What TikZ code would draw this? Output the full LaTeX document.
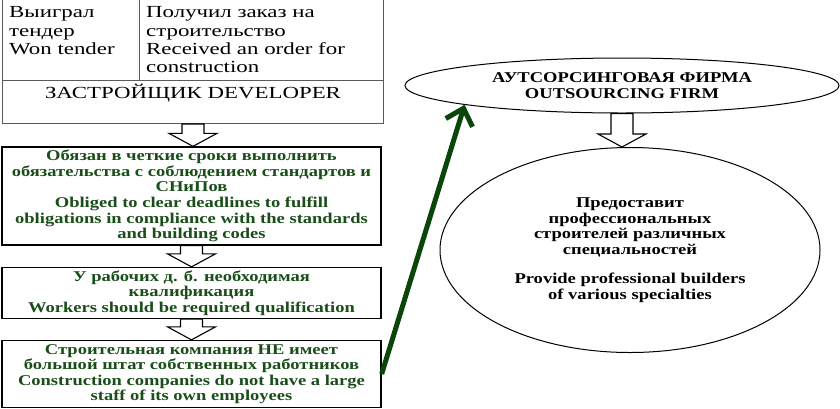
\documentclass[tikz,border=0pt]{standalone}
\usepackage{fontspec}
\setmainfont{Liberation Serif}[FakeStretch=1.24]
\newfontfamily\topfont{Liberation Serif}[FakeStretch=1.35]
\usetikzlibrary{shapes.geometric,arrows.meta,calc}
\definecolor{txtgreen}{RGB}{25,78,25}
\definecolor{arrgreen}{RGB}{10,70,10}
\definecolor{tabline}{RGB}{90,90,90}
\newcommand\blockarr[2]{\draw[barrow] let \p1=(#1.south), \p2=(#2.north) in
  (\x1-11bp,\y1) -- (\x1+11bp,\y1) -- (\x1+11bp,\y2+13bp) -- (\x1+24bp,\y2+13bp)
  -- (\x1,\y2) -- (\x1-24bp,\y2+13bp) -- (\x1-11bp,\y2+13bp) -- cycle;}
\begin{document}
\begin{tikzpicture}[x=1bp,y=-1bp,
  gbox/.style={draw=black, line width=1.3bp, fill=white,
    font=\bfseries\fontsize{15}{15.6}\selectfont, text=txtgreen, align=center,
    inner sep=0pt, minimum width=379bp},
  ell/.style={draw=black, ellipse, line width=1bp, inner sep=0pt,
    font=\bfseries\fontsize{15}{15.8}\selectfont, align=center},
  barrow/.style={draw=black, line width=1.1bp, fill=white, line join=miter},
  toptxt/.style={font=\topfont\fontsize{17}{18.3}\selectfont, align=left,
    anchor=north west, inner sep=0pt}
]
\useasboundingbox (0,0) rectangle (840,408);

% developer table
\node[draw=tabline, line width=1bp, minimum width=381bp, minimum height=124bp,
  anchor=north west, inner sep=0pt] (dev) at (2,-1) {};
\draw[tabline, line width=0.8bp] (2,80) -- (383,80);
\draw[tabline, line width=0.8bp] (139,-1) -- (139,80);
\node[toptxt] (won) at (9,6.5) {Выиграл\\тендер\\Won tender};
\node[toptxt] (order) at (146,6.5) {Получил заказ на\\строительство\\Received an order for\\construction};
\node[font=\topfont\fontsize{17}{18.3}\selectfont, inner sep=0pt] (devtxt) at (193,93.5) {ЗАСТРОЙЩИК DEVELOPER};

% green boxes
\node[gbox, minimum height=98bp] (b2) at (191.5,196) {Обязан в четкие сроки выполнить\\обязательства с соблюдением стандартов и\\СНиПов\\Obliged to clear deadlines to fulfill\\obligations in compliance with the standards\\and building codes};
\node[gbox, minimum height=51bp] (b3) at (191.5,293) {У рабочих д. б. необходимая\\квалификация\\Workers should be required qualification};
\node[gbox, minimum height=67bp] (b4) at (191.5,374) {Строительная компания НЕ имеет\\большой штат собственных работников\\Construction companies do not have a large\\staff of its own employees};

% ellipses
\node[ell, minimum width=434bp, minimum height=55bp] (of) at (622,85.5) {АУТСОРСИНГОВАЯ ФИРМА\\OUTSOURCING FIRM};
\node[ell, minimum width=380bp, minimum height=205bp] (prov) at (630,250) {Предоставит\\профессиональных\\строителей различных\\специальностей\\[13bp]Provide professional builders\\of various specialties};

% block arrows
\blockarr{dev}{b2}
\blockarr{b2}{b3}
\blockarr{b3}{b4}
\blockarr{of}{prov}

% green arrow
\draw[arrgreen, line width=5bp, -{Straight Barb[length=15bp,width=28bp]}] (b4.east) -- (of.187.5);
\end{tikzpicture}
\end{document}
